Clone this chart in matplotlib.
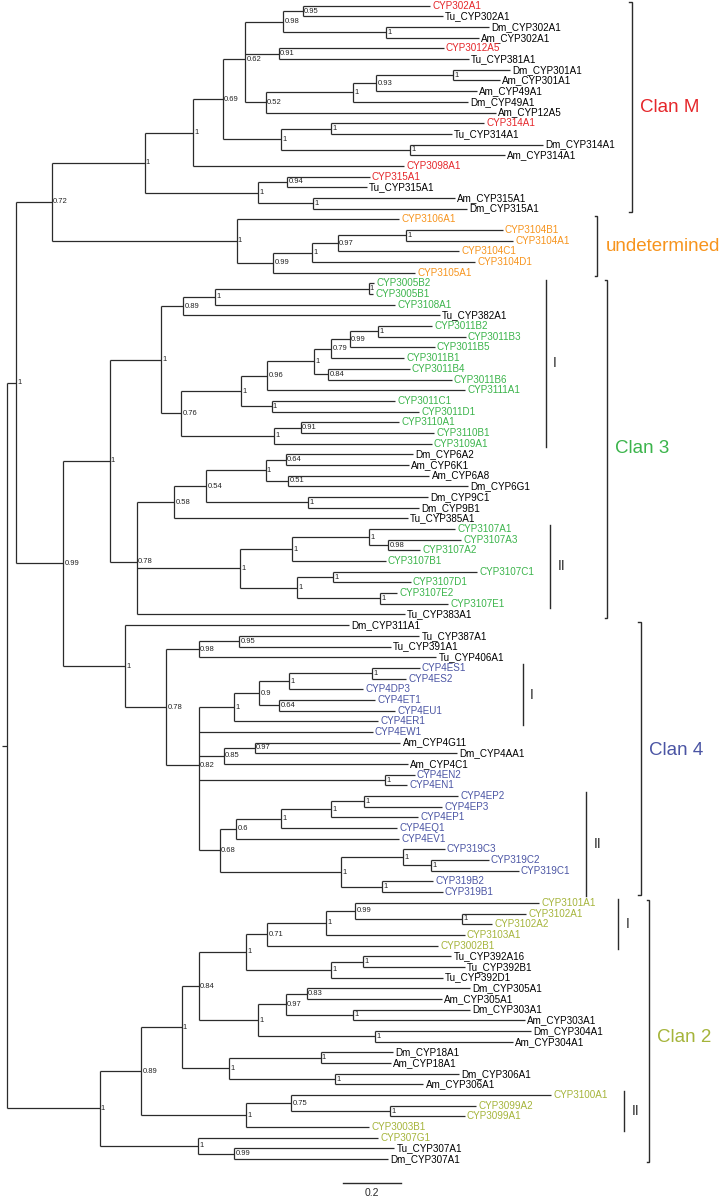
import matplotlib
matplotlib.use('Agg')
import matplotlib.pyplot as plt
from matplotlib.collections import LineCollection

plt.rcParams['font.family'] = ['Liberation Sans', 'DejaVu Sans']

# Tree in Newick format: branch lengths (substitutions/site) and posterior support
CLAN_M = (
    "((((((CYP302A1:0.445,Tu_CYP302A1:0.490)0.95:0.067,(Dm_CYP302A1:0.357,Am_CYP302A1:0.323)1:0.359)0.98:0.133,"
    "(CYP3012A5:0.576,Tu_CYP381A1:0.663)0.91:0.116,"
    "((((Dm_CYP301A1:0.198,Am_CYP301A1:0.163)1:0.270,Am_CYP49A1:0.351)0.93:0.081,Dm_CYP49A1:0.403)1:0.303,Am_CYP12A5:0.803)0.52:0.072)0.62:0.078,"
    "((CYP314A1:0.534,Tu_CYP314A1:0.421)1:0.174,(Dm_CYP314A1:0.465,Am_CYP314A1:0.331)1:0.450)1:0.203)0.69:0.103,"
    "CYP3098A1:0.735)1:0.170,"
    "((CYP315A1:0.288,Tu_CYP315A1:0.277)0.94:0.101,(Am_CYP315A1:0.494,Dm_CYP315A1:0.535)1:0.192)1:0.396)1:0.324"
)
UNDETERMINED = (
    "(CYP3106A1:0.567,((((CYP3104B1:0.337,CYP3104A1:0.374)1:0.238,CYP3104C1:0.424)0.97:0.091,"
    "CYP3104D1:0.570)1:0.134,CYP3105A1:0.494)0.99:0.128)1:0.645"
)
CLAN_3 = (
    "(((((CYP3005B2:0.020,CYP3005B1:0.015)1:0.535,CYP3108A1:0.628)1:0.111,Tu_CYP382A1:0.895)0.89:0.078,"
    "(((((((CYP3011B2:0.190,CYP3011B3:0.307)1:0.097,CYP3011B5:0.296)0.99:0.066,CYP3011B1:0.256)0.79:0.059,"
    "(CYP3011B4:0.283,CYP3011B6:0.430)0.84:0.050)1:0.163,CYP3111A1:0.690)0.96:0.093,"
    "(CYP3011C1:0.430,CYP3011D1:0.514)1:0.108)1:0.208,"
    "((CYP3110A1:0.343,CYP3110B1:0.464)0.91:0.094,CYP3109A1:0.550)1:0.324)0.76:0.070)1:0.179,"
    "(((((Dm_CYP6A2:0.445,Am_CYP6K1:0.431)0.64:0.070,(Am_CYP6A8:0.492,Dm_CYP6G1:0.628)0.51:0.079)1:0.208,"
    "(Dm_CYP9C1:0.419,Dm_CYP9B1:0.387)1:0.355)0.54:0.111,Tu_CYP385A1:0.816)0.58:0.131,"
    "(((CYP3107A1:0.300,(CYP3107A3:0.256,CYP3107A2:0.111)0.98:0.067)1:0.268,CYP3107B1:0.327)1:0.182,"
    "((CYP3107C1:0.502,CYP3107D1:0.271)1:0.124,(CYP3107E2:0.062,CYP3107E1:0.238)1:0.287)1:0.201)1:0.360,"
    "Tu_CYP383A1:0.936)0.78:0.094)1:0.162"
)
CLAN_4 = (
    "(Dm_CYP311A1:0.781,(((Tu_CYP387A1:0.629,Tu_CYP391A1:0.529)0.95:0.141,Tu_CYP406A1:0.830)0.98:0.112,"
    "(((((CYP4ES1:0.166,CYP4ES2:0.118)1:0.289,CYP4DP3:0.258)1:0.105,(CYP4ET1:0.334,CYP4EU1:0.404)0.64:0.070)0.9:0.087,"
    "CYP4ER1:0.502)1:0.124,"
    "CYP4EW1:0.607,"
    "((Am_CYP4G11:0.508,Dm_CYP4AA1:0.704)0.97:0.108,Am_CYP4C1:0.643)0.85:0.088,"
    "(CYP4EN2:0.102,CYP4EN1:0.075)1:0.652,"
    "(((((CYP4EP2:0.328,CYP4EP3:0.273)1:0.116,CYP4EP1:0.304)1:0.174,CYP4EQ1:0.407)1:0.155,CYP4EV1:0.567)0.6:0.058,"
    "((CYP319C3:0.145,(CYP319C2:0.202,CYP319C1:0.307)1:0.097)1:0.217,"
    "(CYP319B2:0.178,CYP319B1:0.211)1:0.144)1:0.422)0.68:0.074)0.82:0.112)0.78:0.144)1:0.216"
)
CLAN_2 = (
    "((((((((CYP3101A1:0.640,(CYP3102A1:0.223,CYP3102A2:0.103)1:0.373)0.99:0.101,CYP3103A1:0.482)1:0.206,"
    "CYP3002B1:0.595)0.71:0.073,"
    "((Tu_CYP392A16:0.308,Tu_CYP392B1:0.355)1:0.113,Tu_CYP392D1:0.392)1:0.294)1:0.167,"
    "(((Dm_CYP305A1:0.570,Am_CYP305A1:0.471)0.83:0.073,(Dm_CYP303A1:0.409,Am_CYP303A1:0.601)1:0.234)0.97:0.096,"
    "(Dm_CYP304A1:0.544,Am_CYP304A1:0.482)1:0.407)1:0.208)0.84:0.059,"
    "((Dm_CYP18A1:0.253,Am_CYP18A1:0.244)1:0.319,(Dm_CYP306A1:0.434,Am_CYP306A1:0.308)1:0.369)1:0.166)1:0.140,"
    "((CYP3100A1:0.907,(CYP3099A2:0.300,CYP3099A1:0.259)1:0.345)0.75:0.157,CYP3003B1:0.427)1:0.366)0.89:0.146,"
    "(CYP307G1:0.630,(Tu_CYP307A1:0.558,Dm_CYP307A1:0.537)0.99:0.128)1:0.342)1:0.322"
)
TREE = f"((({CLAN_M},{UNDETERMINED})0.72:0.125,({CLAN_3},{CLAN_4})0.99:0.165)1:0.030,{CLAN_2});"

# clans: label, first leaf, last leaf, colour
CLANS = [
    ("Clan M", "CYP302A1", "Dm_CYP315A1", "#e5262a"),
    ("undetermined", "CYP3106A1", "CYP3105A1", "#f7941d"),
    ("Clan 3", "CYP3005B2", "Tu_CYP383A1", "#3bb44b"),
    ("Clan 4", "Dm_CYP311A1", "CYP319B1", "#4b55a4"),
    ("Clan 2", "CYP3101A1", "Dm_CYP307A1", "#a5b43a"),
]
# subgroups inside clans: label, first leaf, last leaf
SUBGROUPS = [
    ("I", "CYP3005B2", "CYP3109A1"),
    ("II", "CYP3107A1", "CYP3107E1"),
    ("I", "CYP4ES1", "CYP4ER1"),
    ("II", "CYP4EP2", "CYP319B1"),
    ("I", "CYP3101A1", "CYP3002B1"),
    ("II", "CYP3100A1", "CYP3003B1"),
]
SCALE_LEN = 0.2

# layout in pixels of the original figure
W, H = 723, 1199
ROOT_PX = 7.3
PX_UNIT = 286.7
TOP_PX = 5.7
ROW_PX = 10.68
CLAN_X_PX = [631.7, 597.3, 607.3, 640.7, 649.3]
CLAN_LABEL_DY = [0.0, 0.0, 0.0, -0.8, 0.65]
SUB_X_PX = [545.7, 550.0, 522.7, 586.0, 618.3, 624.3]


def px(p):
    return p / PX_UNIT


def parse_newick(text):
    pos = 0

    def token():
        nonlocal pos
        start = pos
        while text[pos] not in ',():;':
            pos += 1
        return text[start:pos]

    def node():
        nonlocal pos
        n = {'children': [], 'name': '', 'length': 0.0}
        if text[pos] == '(':
            pos += 1
            n['children'].append(node())
            while text[pos] == ',':
                pos += 1
                n['children'].append(node())
            pos += 1
        n['name'] = token()
        if text[pos] == ':':
            pos += 1
            n['length'] = float(token())
        return n

    return node()


root = parse_newick(TREE)
leaves = []
internals = []


def layout(n, x):
    n['x'] = x
    if not n['children']:
        n['y'] = len(leaves)
        leaves.append(n)
        return
    for c in n['children']:
        layout(c, x + c['length'])
    n['y'] = sum(c['y'] for c in n['children']) / len(n['children'])
    internals.append(n)


layout(root, 0.0)
leaf_index = {n['name']: n['y'] for n in leaves}

# leaf colours: the new sequences (no species prefix) take their clan colour
leaf_color = {}
for label, first, last, color in CLANS:
    for n in leaves[leaf_index[first]:leaf_index[last] + 1]:
        if n['name'][:3] in ('Dm_', 'Am_', 'Tu_'):
            leaf_color[n['name']] = 'black'
        else:
            leaf_color[n['name']] = color

fig = plt.figure(figsize=(W / 100, H / 100), dpi=100)
ax = fig.add_axes([0, 0, 1, 1])
ax.set_xlim(-px(ROOT_PX), px(W - ROOT_PX))
ax.set_ylim((H - TOP_PX) / ROW_PX, -TOP_PX / ROW_PX)
ax.axis('off')

line_color = '#2b2b2b'
segs = [[(-px(5), root['y']), (0, root['y'])]]
for n in internals:
    ys = [c['y'] for c in n['children']]
    segs.append([(n['x'], min(ys)), (n['x'], max(ys))])
    for c in n['children']:
        segs.append([(n['x'], c['y']), (c['x'], c['y'])])
ax.add_collection(LineCollection(segs, colors=line_color, linewidths=0.9))

# support values
for n in internals:
    if n['name']:
        ax.text(n['x'] + px(1.3), n['y'], n['name'], fontsize=5.5,
                ha='left', va='center', color='#222222')

# leaf names
for n in leaves:
    ax.text(n['x'] + px(2.2), n['y'], n['name'], fontsize=7.1, ha='left',
            va='center', color=leaf_color.get(n['name'], 'black'))

# clan brackets
pad = 0.3
for (label, first, last, color), bx_px, dy in zip(CLANS, CLAN_X_PX, CLAN_LABEL_DY):
    bx = px(bx_px - ROOT_PX)
    y0 = leaf_index[first] - pad
    y1 = leaf_index[last] + pad
    ax.plot([bx - px(2.5), bx, bx, bx - px(2.5)], [y0, y0, y1, y1],
            color=line_color, lw=1.0, solid_joinstyle='miter')
    ax.text(bx + px(8), (y0 + y1) / 2 + dy, label, fontsize=13.5,
            color=color, ha='left', va='center')

for (label, first, last), bx_px in zip(SUBGROUPS, SUB_X_PX):
    bx = px(bx_px - ROOT_PX)
    y0 = leaf_index[first] - 0.35
    y1 = leaf_index[last] + 0.35
    ax.plot([bx, bx], [y0, y1], color=line_color, lw=1.0)
    ax.text(bx + px(7.5), (y0 + y1) / 2, label, fontsize=10,
            color=line_color, ha='left', va='center')

# scale bar
sx0 = px(343.3 - ROOT_PX)
sy = (1182.7 - TOP_PX) / ROW_PX
ax.plot([sx0, sx0 + SCALE_LEN], [sy, sy], color=line_color, lw=1.0)
ax.text(sx0 + SCALE_LEN / 2, sy + 1.0, f"{SCALE_LEN}", fontsize=7.5,
        ha='center', va='center', color=line_color)

fig.savefig('out.png', dpi=100)
